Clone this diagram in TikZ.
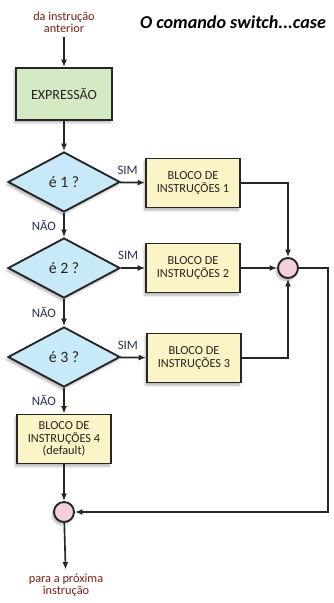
\documentclass[tikz,border=0pt]{standalone}
\usepackage{fontspec}
\setmainfont{Carlito}
\usepackage{xcolor}
\usepackage{tikz}
\usetikzlibrary{arrows.meta,shapes.geometric,shadows.blur}

\definecolor{exprgreen}{HTML}{D5E9C5}
\definecolor{testblue}{HTML}{C8E9F8}
\definecolor{blockyellow}{HTML}{FBF4C6}
\definecolor{mergepink}{HTML}{F6CFE1}
\definecolor{notered}{HTML}{7A1E14}
\definecolor{answerblue}{HTML}{28324F}
\definecolor{inktext}{HTML}{2A2220}

\begin{document}
\begin{tikzpicture}[
  x=0.3mm,y=-0.3mm,
  softshadow/.style={blur shadow={shadow xshift=-0.5mm,shadow yshift=-0.8mm,shadow blur steps=6,shadow opacity=30}},
  box/.style={rectangle,draw=black!85,line width=1.6pt,align=center,minimum width=28.2mm,minimum height=14.7mm,fill=blockyellow,font=\fontsize{10.5}{10.5}\selectfont,text=inktext,softshadow},
  expr/.style={box,fill=exprgreen,minimum width=28.8mm,minimum height=15.6mm,font=\fontsize{12}{13}\selectfont},
  decision/.style={shape=diamond,draw=black!85,line width=1.6pt,fill=testblue,minimum width=33.6mm,minimum height=18mm,inner sep=0pt,font=\fontsize{13.5}{14}\selectfont,text=inktext,softshadow},
  junction/.style={circle,draw=black!85,line width=1.6pt,fill=mergepink,minimum size=6mm,inner sep=0pt,softshadow},
  caption/.style={align=center,text=notered,font=\fontsize{10.5}{10.5}\selectfont},
  answer/.style={text=answerblue,font=\fontsize{11}{12}\selectfont},
  arr/.style={-{Latex[length=2.2mm,width=1.8mm]},line width=1.4pt,draw=black!85}
]
\useasboundingbox (0,0) rectangle (333,603);

\node[caption] (prev) at (64,22) {da instrução\\anterior};
\node[font=\bfseries\itshape\fontsize{15.5}{17}\selectfont] (title) at (233,22) {O comando switch...case};
\node[expr] (expr) at (64,94) {EXPRESSÃO};
\node[decision] (q1) at (64,182) {é 1 ?};
\node[decision] (q2) at (64,268) {é 2 ?};
\node[decision] (q3) at (64,357) {é 3 ?};
\node[box] (b1) at (193,183) {BLOCO DE\\INSTRUÇÕES 1};
\node[box] (b2) at (193,268) {BLOCO DE\\INSTRUÇÕES 2};
\node[box] (b3) at (194,358) {BLOCO DE\\INSTRUÇÕES 3};
\node[box] (b4) at (64,439) {BLOCO DE\\INSTRUÇÕES 4\\(default)};
\node[junction] (m1) at (288,268) {};
\node[junction] (m2) at (64,512) {};
\node[caption] (next) at (66,585) {para a próxima\\instrução};
\coordinate (rim) at (328,512);

\draw[arr] (prev) -- (expr);
\draw[arr] (expr) -- (q1);
\draw[arr] (q1) -- node[answer,above,pos=0.3,yshift=1mm]{SIM} (b1);
\draw[arr] (q2) -- node[answer,above,pos=0.3,yshift=1mm]{SIM} (b2);
\draw[arr] (q3) -- node[answer,above,pos=0.3,yshift=1mm]{SIM} (b3);
\draw[arr] (q1) -- node[answer,left,xshift=-1mm]{NÃO} (q2);
\draw[arr] (q2) -- node[answer,left,xshift=-1mm]{NÃO} (q3);
\draw[arr] (q3) -- node[answer,left,xshift=-1mm]{NÃO} (b4);
\draw[arr] (b1) -| (m1);
\draw[arr] (b2) -- (m1);
\draw[arr] (b3) -| (m1);
\draw[arr] (b4) -- (m2);
\draw[arr] (m1) -| (rim) -- (m2);
\draw[arr] (m2) -- (next);
\end{tikzpicture}
\end{document}
